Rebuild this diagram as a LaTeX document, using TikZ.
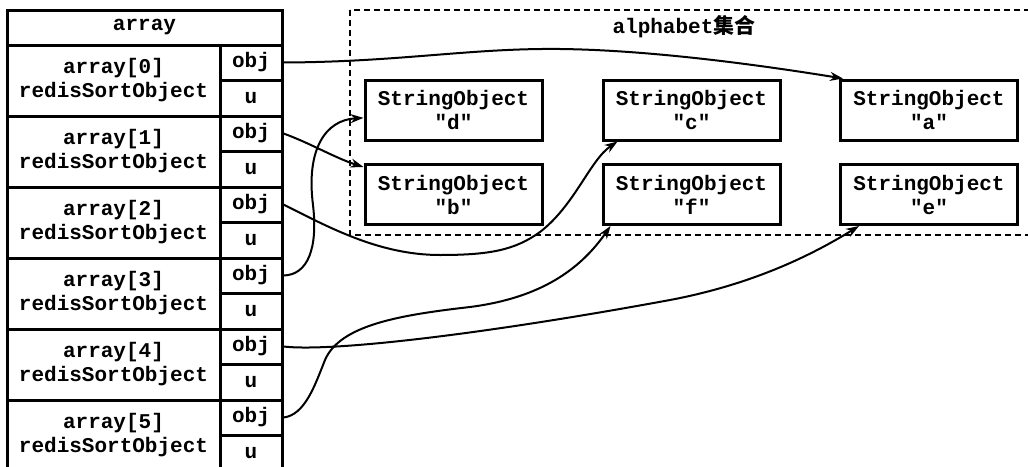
\documentclass[tikz,border=0pt]{standalone}
\usepackage{fontspec}
\setmonofont{Liberation Mono}
\newfontfamily\cjk{Noto Sans CJK SC}
\usetikzlibrary{arrows.meta}

\begin{document}
\begin{tikzpicture}[x=1pt,y=-1pt,
  >={Stealth[length=13pt,width=9pt]},
  every node/.style={font=\ttfamily\bfseries\fontsize{21}{24}\selectfont, inner sep=0pt},
  cell/.style={draw, line width=3pt, rectangle, align=center},
  namecell/.style={cell, minimum width=213pt, minimum height=71pt},
  objcell/.style={cell, minimum width=62pt, minimum height=35pt},
  ucell/.style={cell, minimum width=62pt, minimum height=36pt},
  strobj/.style={cell, minimum width=177pt, minimum height=60pt},
  link/.style={->, line width=2pt}]
\useasboundingbox (0,0) rectangle (1028,466);
% the array of redisSortObject
\node[cell, minimum width=275pt, minimum height=35pt] (head) at (144.5,27.5) {array};
\node[namecell] (row0) at (113.5,80.5) {array[0]\\redisSortObject};
\node[objcell] (obj0) at (251,62.5) {obj};
\node[ucell] (u0) at (251,98) {u};
\node[namecell] (row1) at (113.5,151.5) {array[1]\\redisSortObject};
\node[objcell] (obj1) at (251,133.5) {obj};
\node[ucell] (u1) at (251,169) {u};
\node[namecell] (row2) at (113.5,222.5) {array[2]\\redisSortObject};
\node[objcell] (obj2) at (251,204.5) {obj};
\node[ucell] (u2) at (251,240) {u};
\node[namecell] (row3) at (113.5,293.5) {array[3]\\redisSortObject};
\node[objcell] (obj3) at (251,275.5) {obj};
\node[ucell] (u3) at (251,311) {u};
\node[namecell] (row4) at (113.5,364.5) {array[4]\\redisSortObject};
\node[objcell] (obj4) at (251,346.5) {obj};
\node[ucell] (u4) at (251,382) {u};
\node[namecell] (row5) at (113.5,435.5) {array[5]\\redisSortObject};
\node[objcell] (obj5) at (251,417.5) {obj};
\node[ucell] (u5) at (251,453) {u};
% the alphabet set
\draw[line width=1.8pt, dash pattern=on 6pt off 4pt] (350,10) rectangle (1040,235);
\node (title) at (684,27) {alphabet{\cjk\bfseries 集合}};
\node[strobj] (sd) at (453.5,110) {StringObject\\"d"};
\node[strobj] (sc) at (691.5,110) {StringObject\\"c"};
\node[strobj] (sa) at (929,110) {StringObject\\"a"};
\node[strobj] (sb) at (453.5,194.5) {StringObject\\"b"};
\node[strobj] (sf) at (691.5,194.5) {StringObject\\"f"};
\node[strobj] (se) at (929,194.5) {StringObject\\"e"};
% pointers
\draw[link] (obj0.east) .. controls (400,62) and (470,48) .. (560,49)
  .. controls (650,50) and (760,65) .. ([xshift=4pt]sa.north west);
\draw[link] (obj1.east) .. controls (310,143) and (335,158) .. (sb.163);
\draw[link] (obj2.east) .. controls (330,228) and (380,255) .. (440,255)
  .. controls (490,255) and (515,250) .. (540,232)
  .. controls (575,205) and (590,160) .. ([xshift=16pt]sc.south west);
\draw[link] (obj3.east) .. controls (308,275) and (318,248) .. (313,205)
  .. controls (306,150) and (325,120) .. (sd.185);
\draw[link] (obj4.east) .. controls (330,352) and (480,335) .. (670,300)
  .. controls (760,283) and (820,250) .. ([xshift=20pt]se.south west);
\draw[link] (obj5.east) .. controls (305,415) and (315,385) .. (325,360)
  .. controls (340,325) and (400,315) .. (470,307)
  .. controls (540,298) and (580,270) .. ([xshift=9pt]sf.south west);
\end{tikzpicture}
\end{document}
